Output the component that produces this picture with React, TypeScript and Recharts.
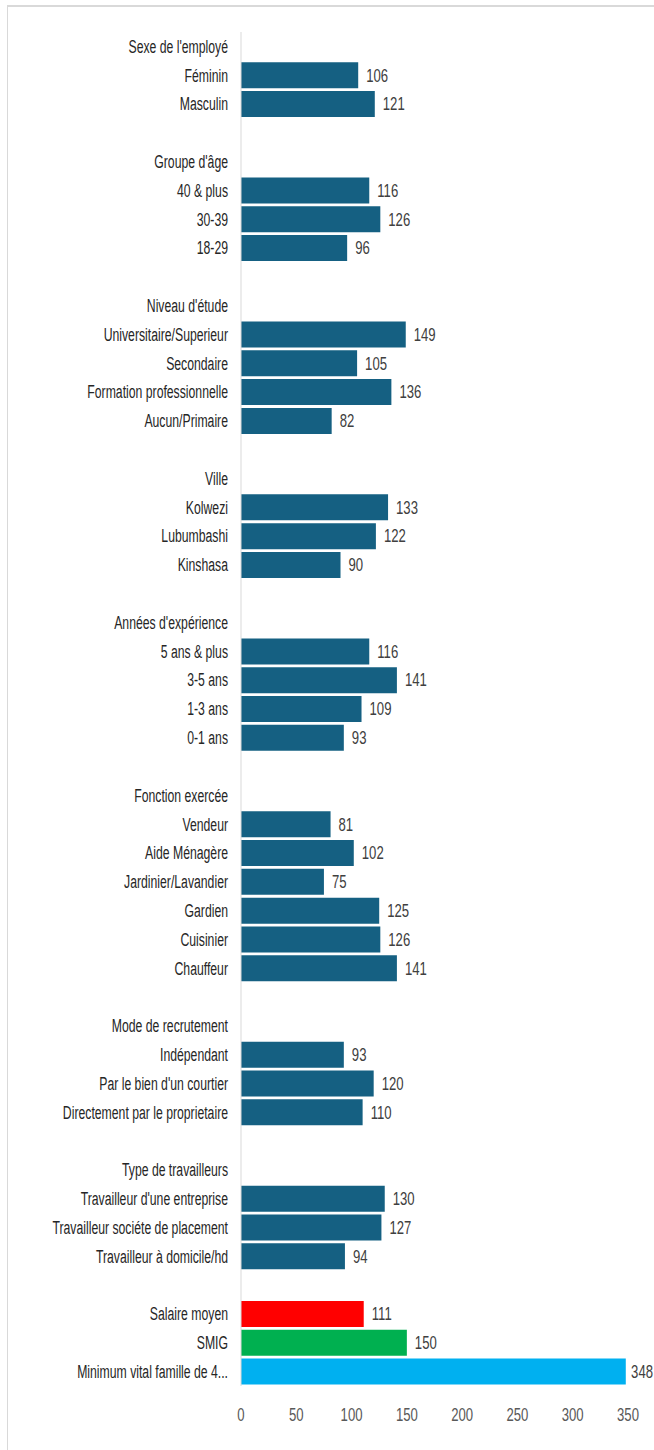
import { BarChart, Bar, XAxis, YAxis, Cell, LabelList } from 'recharts'

// groupes et valeurs (salaire moyen par catégorie)
const groupTitles = [
  "Sexe de l'employé",
  "Groupe d'âge",
  "Niveau d'étude",
  'Ville',
  "Années d'expérience",
  'Fonction exercée',
  'Mode de recrutement',
  'Type de travailleurs',
]

const groupLabels = [
  ['Féminin', 'Masculin'],
  ['40 & plus', '30-39', '18-29'],
  ['Universitaire/Superieur', 'Secondaire', 'Formation professionnelle', 'Aucun/Primaire'],
  ['Kolwezi', 'Lubumbashi', 'Kinshasa'],
  ['5 ans & plus', '3-5 ans', '1-3 ans', '0-1 ans'],
  ['Vendeur', 'Aide Ménagère', 'Jardinier/Lavandier', 'Gardien', 'Cuisinier', 'Chauffeur'],
  ['Indépendant', "Par le bien d'un courtier", 'Directement par le proprietaire'],
  ["Travailleur d'une entreprise", 'Travailleur sociéte de placement', 'Travailleur à domicile/hd'],
]

const groupValues = [
  [106, 121],
  [116, 126, 96],
  [149, 105, 136, 82],
  [133, 122, 90],
  [116, 141, 109, 93],
  [81, 102, 75, 125, 126, 141],
  [93, 120, 110],
  [130, 127, 94],
]

const refLabels = ['Salaire moyen', 'SMIG', 'Minimum vital famille de 4...']
const refValues = [111, 150, 348]
const refColors = ['#ff0000', '#00b050', '#00b0f0']

const xTicks = [0, 50, 100, 150, 200, 250, 300, 350]

const BLUE = '#156082'
const FONT = '"Liberation Sans", Arial, sans-serif'
const FS = 18
const LABEL_SX = 0.68 // police étroite simulée
const NUM_SX = 0.73

const rows: { name: string; value: number | null; color: string }[] = []
groupTitles.forEach((title, g) => {
  rows.push({ name: title, value: null, color: BLUE })
  groupLabels[g].forEach((lab, i) => rows.push({ name: lab, value: groupValues[g][i], color: BLUE }))
  rows.push({ name: '', value: null, color: BLUE })
})
refLabels.forEach((lab, i) => rows.push({ name: lab, value: refValues[i], color: refColors[i] }))

const CategoryTick = (props: any) => {
  const { x, y, payload } = props
  return (
    <g transform={`translate(${x},${y})`}>
      <text
        transform={`scale(${LABEL_SX},1)`}
        textAnchor="end"
        dy="0.35em"
        fill="#262626"
        fontSize={FS}
        fontFamily={FONT}
      >
        {payload.value}
      </text>
    </g>
  )
}

const NumberTick = (props: any) => {
  const { x, y, payload } = props
  return (
    <g transform={`translate(${x},${y})`}>
      <text
        transform={`scale(${NUM_SX},1)`}
        textAnchor="middle"
        dy="0.35em"
        fill="#595959"
        fontSize={FS}
        fontFamily={FONT}
      >
        {payload.value}
      </text>
    </g>
  )
}

const renderValue = (props: any) => {
  const { x, y, width, height, value } = props
  if (value === null || value === undefined) return null
  const textW = String(value).length * 0.556 * FS * NUM_SX
  const tx = Math.min(x + width + 8, 653 - textW)
  return (
    <g transform={`translate(${tx},${y + height / 2})`}>
      <text
        transform={`scale(${NUM_SX},1)`}
        dy="0.35em"
        fill="#404040"
        fontSize={FS}
        fontFamily={FONT}
      >
        {value}
      </text>
    </g>
  )
}

export default function App() {
  return (
    <>
      <div
        style={{
          position: 'absolute',
          left: 7,
          top: 5,
          width: 647,
          height: 1445,
          boxSizing: 'border-box',
          borderTop: '2px solid #d9d9d9',
          borderLeft: '1px solid #d9d9d9',
        }}
      />
      <div style={{ position: 'absolute', left: 0, top: 0 }}>
        <BarChart
          width={654}
          height={1450}
          data={rows}
          layout="vertical"
          margin={{ top: 32, right: 26, bottom: 14, left: 0 }}
          barCategoryGap={1.4}
        >
          <XAxis
            type="number"
            domain={[0, 350]}
            ticks={xTicks}
            axisLine={false}
            tickLine={false}
            tickMargin={23}
            height={50}
            tick={NumberTick}
          />
          <YAxis
            type="category"
            dataKey="name"
            width={241}
            interval={0}
            tickLine={false}
            tickMargin={7}
            axisLine={{ stroke: '#d9d9d9' }}
            tick={CategoryTick}
          />
          <Bar dataKey="value" isAnimationActive={false}>
            {rows.map((r, i) => (
              <Cell key={i} fill={r.color} />
            ))}
            <LabelList dataKey="value" content={renderValue} />
          </Bar>
        </BarChart>
      </div>
    </>
  )
}
